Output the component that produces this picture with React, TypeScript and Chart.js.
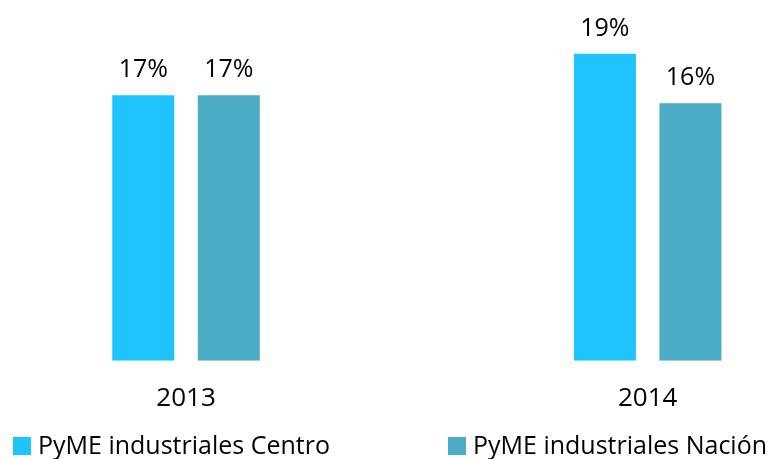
import React, { useEffect, useRef } from 'react';
import { Chart, registerables } from 'chart.js';

Chart.register(...registerables);

const categories = ['2013', '2014'];
const seriesNames = ['PyME industriales Centro', 'PyME industriales Nación'];
const centroValues = [16.6, 19.2];
const nacionValues = [16.6, 16.1];
const seriesColors = ['#1FC4FF', '#4BACC6'];

const FONT = "'Open Sans', sans-serif";

const valueLabels = {
  id: 'valueLabels',
  afterDatasetsDraw(chart: any) {
    const ctx = chart.ctx;
    ctx.save();
    ctx.font = `25px ${FONT}`;
    ctx.fillStyle = '#000';
    ctx.textAlign = 'center';
    ctx.textBaseline = 'middle';
    chart.data.datasets.forEach((ds: any, di: number) => {
      const meta = chart.getDatasetMeta(di);
      meta.data.forEach((bar: any, i: number) => {
        const v = ds.data[i].y;
        ctx.fillText(Math.round(v) + '%', bar.x, bar.y - 25);
      });
    });
    ctx.restore();
  },
};

const bottomLegend = {
  id: 'bottomLegend',
  afterDraw(chart: any) {
    const ctx = chart.ctx;
    const box = 18;
    const textGap = 7;
    const itemGap = 118;
    ctx.save();
    ctx.font = `25px ${FONT}`;
    ctx.textBaseline = 'middle';
    ctx.textAlign = 'left';
    const items = chart.data.datasets.map((ds: any) => ({
      text: ds.label,
      color: ds.backgroundColor,
      w: box + textGap + ctx.measureText(ds.label).width,
    }));
    const total = items.reduce((s: number, it: any) => s + it.w, 0) + itemGap * (items.length - 1);
    let x = (chart.width - total) / 2 + 2;
    const cy = chart.height - 13;
    items.forEach((it: any) => {
      ctx.fillStyle = it.color;
      ctx.fillRect(x, cy - box / 2, box, box);
      ctx.fillStyle = '#000';
      ctx.fillText(it.text, x + box + textGap, cy + 1);
      x += it.w + itemGap;
    });
    ctx.restore();
  },
};

export default function App() {
  const ref = useRef<HTMLCanvasElement | null>(null);

  useEffect(() => {
    if (!ref.current) return;
    const series = [centroValues, nacionValues];
    const chart = new Chart(ref.current, {
      type: 'bar',
      data: {
        datasets: series.map((vals, si) => ({
          label: seriesNames[si],
          data: vals.map((v, i) => ({ x: i, y: v })),
          backgroundColor: seriesColors[si],
          borderWidth: 0,
          categoryPercentage: 0.3705,
          barPercentage: 0.725,
        })),
      },
      options: {
        animation: false,
        responsive: true,
        maintainAspectRatio: false,
        layout: { padding: { top: 41, bottom: 23, left: 0, right: 0 } },
        plugins: {
          legend: { display: false },
          tooltip: { enabled: false },
        },
        scales: {
          x: {
            type: 'linear',
            bounds: 'data',
            offset: false,
            min: -0.403,
            max: 1.278,
            grid: { display: false, drawTicks: false, offset: false },
            border: { display: false },
            afterBuildTicks: (scale: any) => {
              scale.ticks = categories.map((_, i) => ({ value: i }));
            },
            ticks: {
              autoSkip: false,
              maxRotation: 0,
              padding: 22,
              color: '#000',
              font: { family: FONT, size: 26 },
              callback: (value: any) => categories[value] ?? '',
            },
          },
          y: {
            display: false,
            min: 0,
            max: 20,
          },
        },
      },
      plugins: [valueLabels, bottomLegend],
    } as any);
    return () => chart.destroy();
  }, []);

  return (
    <div style={{ position: 'absolute', left: 0, top: 0, width: 776, height: 459 }}>
      <canvas ref={ref} />
    </div>
  );
}
